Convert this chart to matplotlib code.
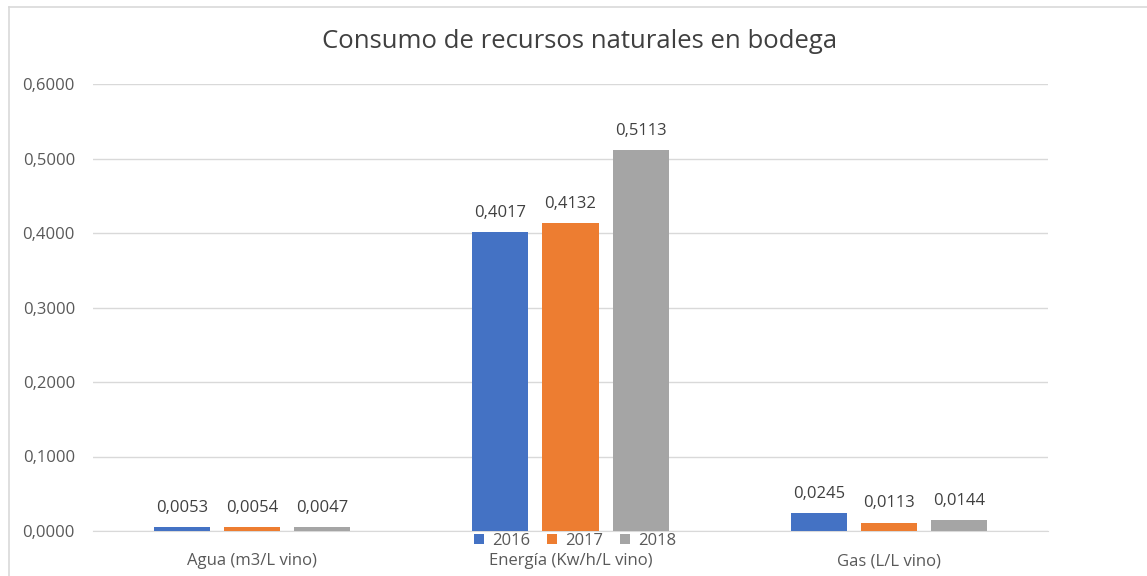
import matplotlib.pyplot as plt
import numpy as np
from matplotlib.lines import Line2D

categories = ["Agua (m3/L vino)", "Energía (Kw/h/L vino)", "Gas (L/L vino)"]
years = ["2016", "2017", "2018"]
v2016 = [0.0053, 0.4017, 0.0245]
v2017 = [0.0054, 0.4132, 0.0113]
v2018 = [0.0047, 0.5113, 0.0144]
colors = ["#4472C4", "#ED7D31", "#A5A5A5"]

plt.rcParams["font.family"] = ["Open Sans", "DejaVu Sans"]

fig = plt.figure(figsize=(11.47, 5.76), dpi=100)
ax = fig.add_axes([93 / 1147, 1 - 531 / 576, (1048 - 93) / 1147, (531 - 84) / 576])

x = np.arange(len(categories))
width = 0.176
step = 0.22
for i, (vals, yr) in enumerate(zip([v2016, v2017, v2018], years)):
    bars = ax.bar(x + (i - 1) * step, vals, width, color=colors[i], label=yr, zorder=3)
    for b, v in zip(bars, vals):
        ax.annotate(f"{v:.4f}".replace(".", ","), (b.get_x() + b.get_width() / 2, v),
                    xytext=(0, 8), textcoords="offset points", ha="center", va="bottom",
                    fontsize=12, color="#404040")

ax.set_xlim(-0.5, 2.5)
ax.set_ylim(0, 0.6)
ax.set_yticks(np.arange(0, 0.61, 0.1))
ax.set_yticklabels([f"{t:.4f}".replace(".", ",") for t in np.arange(0, 0.61, 0.1)])
ax.set_xticks(x)
ax.set_xticklabels(categories)
ax.tick_params(axis="both", length=0, labelsize=12, colors="#595959")
ax.tick_params(axis="x", pad=16)
ax.tick_params(axis="y", pad=13)
ax.grid(axis="y", color="#d9d9d9", linewidth=1, zorder=0)
for s in ["top", "right", "left"]:
    ax.spines[s].set_visible(False)
ax.spines["bottom"].set_color("#d9d9d9")

fig.text(580 / 1147, 1 - 42 / 576, "Consumo de recursos naturales en bodega", ha="center", va="center",
         fontsize=18.5, color="#404040")

fig.legend(loc="center", bbox_to_anchor=(575 / 1147, 1 - 541 / 576), ncol=3, frameon=False,
           fontsize=12, handlelength=0.6, handleheight=0.6, columnspacing=1.0, handletextpad=0.5,
           labelcolor="#595959", borderpad=0)

fig.add_artist(Line2D([8.5 / 1147, 8.5 / 1147], [0, 1 - 6.5 / 576], color="#d9d9d9", linewidth=1.2,
                      transform=fig.transFigure))
fig.add_artist(Line2D([8.5 / 1147, 1], [1 - 6.5 / 576, 1 - 6.5 / 576], color="#d9d9d9", linewidth=1.2,
                      transform=fig.transFigure))

fig.savefig("out.png", dpi=100)
